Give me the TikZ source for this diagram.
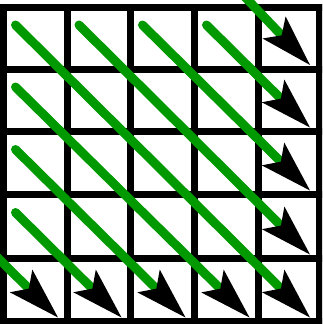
\documentclass[tikz,border=0pt]{standalone}
\usetikzlibrary{arrows.meta}
\definecolor{diaggreen}{RGB}{0,153,0}
\tikzset{
  gridline/.style={line width=7pt, black, line cap=rect},
  diag/.style={line width=9pt, diaggreen, line cap=round,
    -{Stealth[length=52pt, width=32pt, inset=11pt, line width=0pt, color=black]}}
}
\begin{document}
\begin{tikzpicture}[x=1pt,y=-1pt]
\useasboundingbox (0,0) rectangle (322,324);
\fill[white] (0,0) rectangle (322,324);
\clip (0,0) rectangle (322,324);
% grid
\foreach \x in {3.5,67,130.5,194.5,258.5,319}
  \draw[gridline] (\x,7) -- (\x,321.5);
\foreach \y in {7,69,131.5,194.5,258.5,321.5}
  \draw[gridline] (3.5,\y) -- (319,\y);
% starts
\coordinate (s00) at (15.5,25);
\coordinate (s10) at (79,25);
\coordinate (s20) at (142.5,25);
\coordinate (s30) at (206.5,25);
\coordinate (s3m) at (212,-37.5);
\coordinate (s01) at (15.5,87);
\coordinate (s02) at (15.5,149.5);
\coordinate (s03) at (15.5,212.5);
\coordinate (sm3) at (-48,212.5);
% tips
\coordinate (t44) at (310,317.5);
\coordinate (t43) at (310,254.5);
\coordinate (t42) at (310,190.5);
\coordinate (t41) at (310,127.5);
\coordinate (t40) at (310,65);
\coordinate (t34) at (249.5,317.5);
\coordinate (t24) at (185.5,317.5);
\coordinate (t14) at (121.5,317.5);
\coordinate (t04) at (58,317.5);
\draw[diag] (s00) -- (t44);
\draw[diag] (s10) -- (t43);
\draw[diag] (s20) -- (t42);
\draw[diag] (s30) -- (t41);
\draw[diag] (s3m) -- (t40);
\draw[diag] (s01) -- (t34);
\draw[diag] (s02) -- (t24);
\draw[diag] (s03) -- (t14);
\draw[diag] (sm3) -- (t04);
\end{tikzpicture}
\end{document}
